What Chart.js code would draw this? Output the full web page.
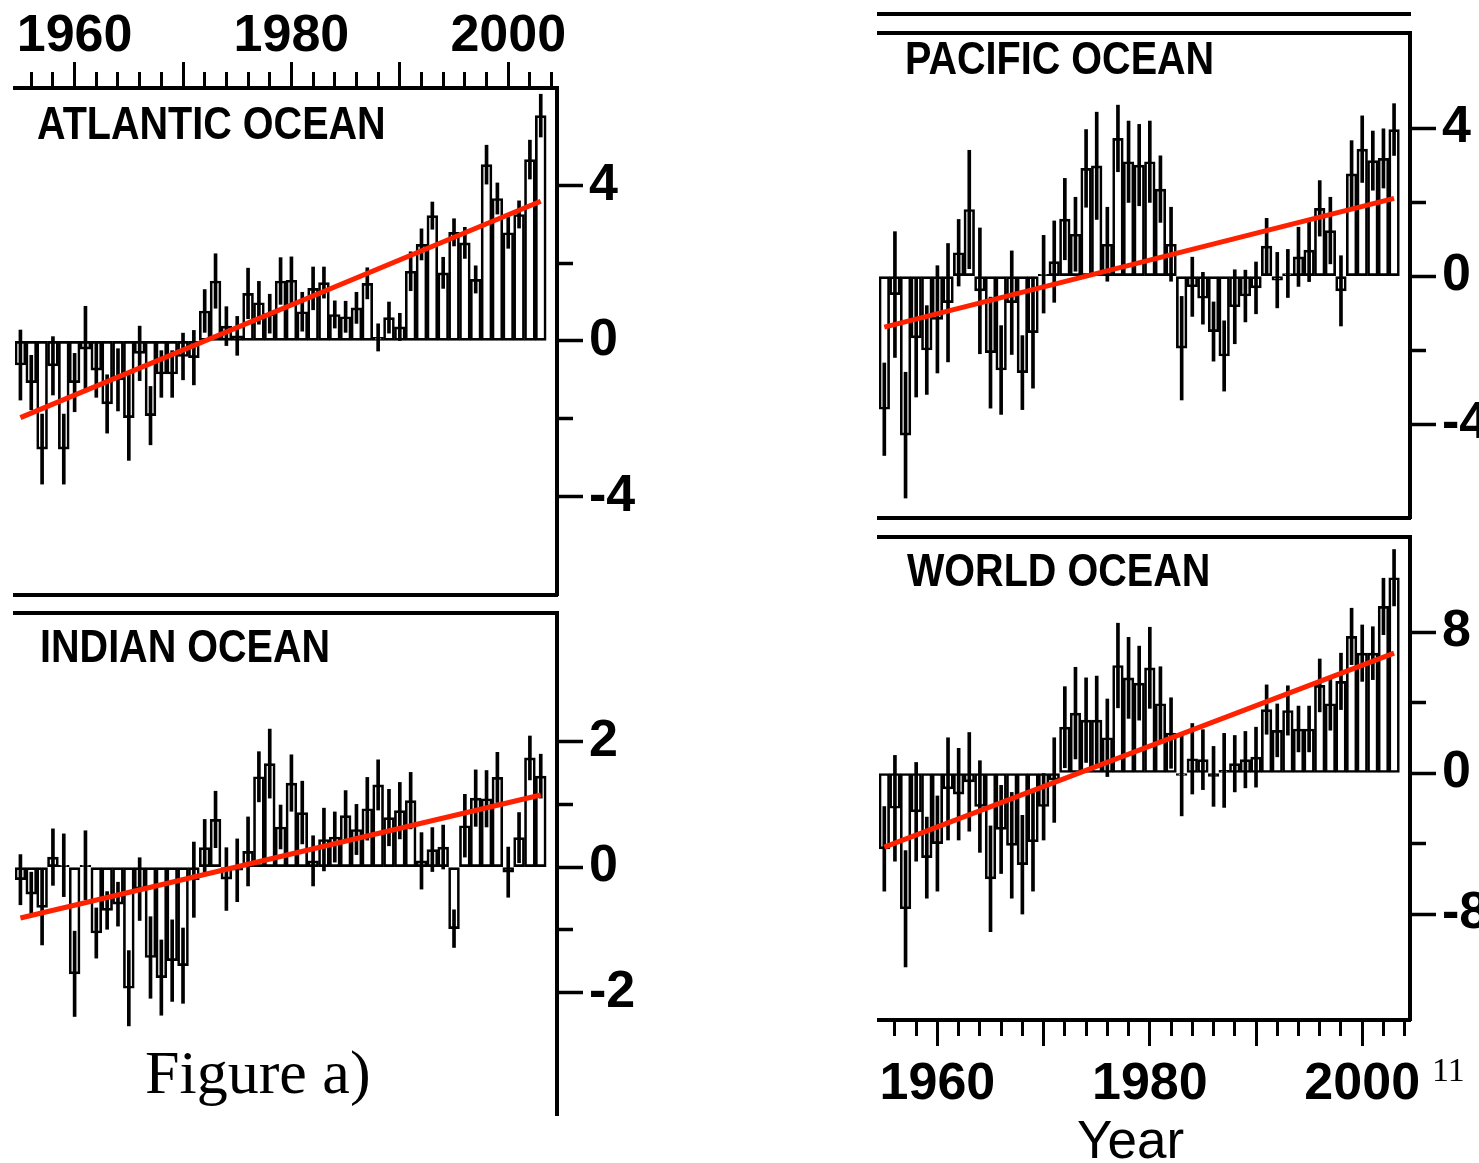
<!DOCTYPE html>
<html>
<head>
<meta charset="utf-8">
<title>Ocean heat content anomalies</title>
<script src="https://cdn.jsdelivr.net/npm/chart.js@4.4.1/dist/chart.umd.min.js"></script>
<style>
  html, body { margin: 0; padding: 0; background: #fff; }
  body { width: 1479px; height: 1163px; position: relative; overflow: hidden; }
  canvas { position: absolute; }
  .name {
    position: absolute; white-space: nowrap; color: #000;
    font: bold 46px/46px "Liberation Sans", Arial, sans-serif;
    transform: scaleX(0.86); transform-origin: 0 0;
  }
  .txt { position: absolute; white-space: nowrap; color: #000; }
</style>
</head>
<body>
<canvas id="cAtl" width="660" height="600" style="left:0;top:0"></canvas>
<canvas id="cInd" width="660" height="520" style="left:0;top:600px"></canvas>
<canvas id="cPac" width="700" height="526" style="left:869px;top:0"></canvas>
<canvas id="cWor" width="700" height="600" style="left:869px;top:529px"></canvas>

<div class="name" style="left:37px;top:100px">ATLANTIC OCEAN</div>
<div class="name" style="left:40px;top:623px">INDIAN OCEAN</div>
<div class="name" style="left:905px;top:35px">PACIFIC OCEAN</div>
<div class="name" style="left:907px;top:547px">WORLD OCEAN</div>

<div class="txt" style="left:145px;top:1041px;font:62px/62px 'Liberation Serif','Times New Roman',serif">Figure a)</div>
<div class="txt" style="left:1432px;top:1053px;font:34px/34px 'Liberation Serif','Times New Roman',serif">11</div>
<div class="txt" style="left:1077px;top:1113px;font:53px/53px 'Liberation Sans',Arial,sans-serif">Year</div>

<script>
// ====================== OCEAN HEAT CONTENT - four panels ======================

const years = ['1955','1956','1957','1958','1959','1960','1961','1962','1963','1964',
  '1965','1966','1967','1968','1969','1970','1971','1972','1973','1974',
  '1975','1976','1977','1978','1979','1980','1981','1982','1983','1984',
  '1985','1986','1987','1988','1989','1990','1991','1992','1993','1994',
  '1995','1996','1997','1998','1999','2000','2001','2002','2003','2004'];
const tickYears = ['1956','1958','1960','1962','1964','1966','1968','1970','1972','1974',
  '1976','1978','1980','1982','1984','1986','1988','1990','1992','1994',
  '1996','1998','2000','2002','2004'];
const majorYears = ['1960','1970','1980','1990','2000'];
const labelYears = ['1960','1980','2000'];
const trendYears = ['1955','2003'];

// Atlantic
const atlanticValues = [-0.62,-1.07,-2.78,-0.64,-2.78,-1.07,-0.21,-0.75,-1.62,-1.0,
  -1.97,-0.32,-1.92,-0.85,-0.85,-0.4,-0.43,0.77,1.54,0.38,
  0.13,1.22,0.98,0.7,1.54,1.56,0.75,1.35,1.5,0.68,
  0.62,0.85,1.48,0.09,0.6,0.36,1.79,2.48,3.22,1.75,
  2.79,2.52,1.58,4.53,3.66,2.78,3.25,4.66,5.79];
const atlanticErrors = [0.9,0.7,0.9,0.75,0.9,0.75,1.1,0.7,0.75,0.8,
  1.1,0.7,0.75,0.6,0.6,0.6,0.7,0.55,0.7,0.5,
  0.5,0.65,0.55,0.5,0.6,0.6,0.5,0.55,0.4,0.35,
  0.4,0.4,0.4,0.35,0.4,0.35,0.5,0.4,0.35,0.4,
  0.35,0.4,0.35,0.5,0.4,0.4,0.35,0.5,0.55];
const atlanticTrend = [-1.97, 3.59];
const atlanticTicks = [-4, -2, 0, 2, 4];
const atlanticLabels = [-4, 0, 4];

// Indian
const indianValues = [-0.2,-0.43,-0.64,0.16,0.03,-1.7,0.03,-1.05,-0.69,-0.59,
  -1.93,-0.35,-1.44,-1.76,-1.49,-1.57,-0.2,0.31,0.76,-0.19,
  -0.05,0.25,1.44,1.65,0.64,1.34,0.87,0.1,0.44,0.48,
  0.82,0.6,0.93,1.31,0.79,0.9,1.06,0.1,0.28,0.32,
  -0.98,0.66,1.1,1.09,1.43,-0.08,0.47,1.74,1.45];
const indianErrors = [0.4,0.35,0.6,0.45,0.5,0.68,0.55,0.4,0.3,0.35,
  0.6,0.5,0.65,0.6,0.65,0.6,0.6,0.45,0.45,0.5,
  0.5,0.55,0.4,0.55,0.35,0.45,0.5,0.4,0.5,0.4,
  0.4,0.4,0.5,0.4,0.45,0.45,0.45,0.45,0.35,0.35,
  0.3,0.5,0.45,0.45,0.4,0.4,0.4,0.35,0.35];
const indianTrend = [-0.81, 1.15];
const indianTicks = [-2, -1, 0, 1, 2];
const indianLabels = [-2, 0, 2];

// Pacific
const pacificValues = [-3.6,-0.5,-4.3,-1.67,-2.0,-1.17,-0.72,0.63,1.8,-0.4,
  -2.07,-2.54,-0.72,-2.61,-1.53,0.05,0.39,1.54,1.13,2.91,
  2.98,0.86,3.72,3.09,3.0,3.09,2.35,0.86,-1.95,-0.29,
  -0.6,-1.5,-2.16,-0.83,-0.54,-0.32,0.81,-0.11,0.07,0.52,
  0.7,1.83,1.23,-0.4,2.76,3.43,3.12,3.18,3.96];
const pacificErrors = [1.25,1.7,1.7,1.6,1.2,1.45,1.6,0.9,1.6,1.7,
  1.5,1.2,1.4,1.0,1.5,1.05,1.1,1.1,1.0,1.05,
  1.45,1.0,0.9,1.1,1.1,1.1,0.9,1.0,1.4,0.8,
  0.7,0.8,0.95,1.0,0.7,0.7,0.75,0.75,0.65,0.8,
  0.85,0.75,0.9,0.95,0.9,0.9,0.8,0.8,0.7];
const pacificTrend = [-1.38, 2.1];
const pacificTicks = [-4, -2, 0, 2, 4];
const pacificLabels = [-4, 0, 4];

// World
const worldValues = [-4.3,-2.0,-7.7,-2.2,-4.8,-4.0,-0.9,-1.2,-0.5,-1.9,
  -6.0,-3.2,-4.1,-5.2,-3.9,-1.9,-0.4,2.6,3.4,3.0,
  3.0,2.0,6.1,5.4,5.1,5.97,3.93,2.27,-0.13,0.81,
  0.76,-0.19,0.15,0.53,0.76,0.9,3.6,2.42,3.55,2.5,
  2.5,4.97,3.93,5.2,7.75,6.8,6.8,9.45,11.08];
const worldErrors = [2.4,3.0,3.3,2.8,2.3,2.7,2.9,2.6,2.8,2.6,
  3.0,2.5,3.0,2.8,2.8,1.9,2.4,2.3,2.6,2.4,
  2.5,2.2,2.4,2.3,2.1,2.3,2.1,2.0,2.3,2.0,
  1.7,1.7,2.1,1.6,1.6,1.7,1.4,1.5,1.4,1.3,
  1.3,1.5,1.5,1.6,1.6,1.6,1.5,1.6,1.6];
const worldTrend = [-4.2, 6.8];
const worldTicks = [-8, -4, 0, 4, 8];
const worldLabels = [-8, 0, 8];

// ==================== AXES ====================
const FONT = "'Liberation Sans', Arial, Helvetica, sans-serif";
const MAJOR = 26;
const MINOR = 14;
const AXIS_W = 4;
const CLEAR = 'rgba(0,0,0,0)';

function tickFont() {
  return { family: FONT, size: 52, weight: 'bold', lineHeight: 1 };
}

// year axis; labels only on the one that carries them
function yearAxis(position, height, withLabels, weight) {
  return {
    type: 'category',
    position: position,
    weight: weight || 0,
    offset: true,
    border: { display: true, color: '#000', width: AXIS_W },
    grid: {
      display: withLabels,
      offset: false,
      drawOnChartArea: false,
      tickLength: MAJOR,
      tickWidth: 3,
      tickColor: ctx => (ctx.tick && tickYears.includes(years[ctx.tick.value])) ? '#000' : CLEAR,
      tickBorderDash: ctx => {
        if (ctx.tick && majorYears.includes(years[ctx.tick.value])) return [];
        return position === 'top' ? [0, MAJOR - AXIS_W / 2 - MINOR, MINOR, 200] : [MINOR, 200];
      }
    },
    ticks: {
      display: withLabels,
      autoSkip: false,
      maxRotation: 0,
      minRotation: 0,
      padding: position === 'top' ? -1 : 13,
      color: '#000',
      font: tickFont(),
      callback: v => labelYears.includes(years[v]) ? years[v] : ''
    },
    afterFit: s => { s.height = height; s.paddingLeft = 0; s.paddingRight = 0; }
  };
}

function valueAxis(p, width) {
  return {
    type: 'linear',
    position: 'right',
    min: p.min,
    max: p.max,
    border: { display: true, color: '#000', width: AXIS_W },
    grid: {
      drawOnChartArea: false,
      tickLength: MAJOR,
      tickWidth: 3.5,
      tickColor: '#000',
      tickBorderDash: ctx => (ctx.tick && p.labels.includes(ctx.tick.value)) ? [] : [MINOR, 200]
    },
    ticks: {
      padding: 6,
      color: '#000',
      font: tickFont(),
      callback: v => p.labels.includes(v) ? String(v) : ''
    },
    afterBuildTicks: s => { s.ticks = p.ticks.map(v => ({ value: v })); },
    afterFit: s => { s.width = width; s.paddingTop = 0; s.paddingBottom = 0; }
  };
}

// ==================== PANELS ====================
function buildPanel(id, p) {
  const errBars = p.values.map((v, i) => [v - p.errors[i], v + p.errors[i]]);
  const trendPts = trendYears.map((y, i) => ({ x: y, y: p.trend[i] }));

  return new Chart(document.getElementById(id), {
    type: 'bar',
    data: {
      labels: years,
      datasets: [
        {
          type: 'line', data: trendPts, borderColor: '#ff2200', borderWidth: 5,
          pointRadius: 0, fill: false, order: 0
        },
        {
          data: errBars, backgroundColor: '#000', borderWidth: 0,
          barThickness: 3, grouped: false, order: 1
        },
        {
          data: p.values, backgroundColor: CLEAR, borderColor: '#000', borderWidth: 2,
          borderSkipped: false, barPercentage: 1, categoryPercentage: 1, order: 2
        }
      ]
    },
    options: {
      responsive: false,
      animation: false,
      events: [],
      layout: { padding: p.padding },
      plugins: { legend: { display: false }, tooltip: { enabled: false } },
      scales: p.scales
    }
  });
}

document.addEventListener('DOMContentLoaded', () => {
  const atl = { min: -6.53, max: 6.5, ticks: atlanticTicks, labels: atlanticLabels };
  buildPanel('cAtl', {
    values: atlanticValues, errors: atlanticErrors, trend: atlanticTrend,
    padding: { left: 15 },
    scales: {
      x: yearAxis('top', 88, true),
      xb: yearAxis('bottom', 5, false),
      y: valueAxis(atl, 103)
    }
  });

  const ind = { min: -3.95, max: 4.05, ticks: indianTicks, labels: indianLabels };
  buildPanel('cInd', {
    values: indianValues, errors: indianErrors, trend: indianTrend,
    padding: { left: 15, bottom: 5 },
    scales: {
      x: yearAxis('top', 13, false),
      y: valueAxis(ind, 103)
    }
  });

  const pac = { min: -6.54, max: 6.57, ticks: pacificTicks, labels: pacificLabels };
  buildPanel('cPac', {
    values: pacificValues, errors: pacificErrors, trend: pacificTrend,
    padding: { left: 10 },
    scales: {
      xo: yearAxis('top', 14, false, 1),
      x: yearAxis('top', 19, false, 0),
      xb: yearAxis('bottom', 8, false),
      y: valueAxis(pac, 159)
    }
  });

  const wor = { min: -14.01, max: 13.39, ticks: worldTicks, labels: worldLabels };
  buildPanel('cWor', {
    values: worldValues, errors: worldErrors, trend: worldTrend,
    padding: { left: 10 },
    scales: {
      xt: yearAxis('top', 8, false),
      x: yearAxis('bottom', 109, true),
      y: valueAxis(wor, 159)
    }
  });
});
</script>
</body>
</html>
